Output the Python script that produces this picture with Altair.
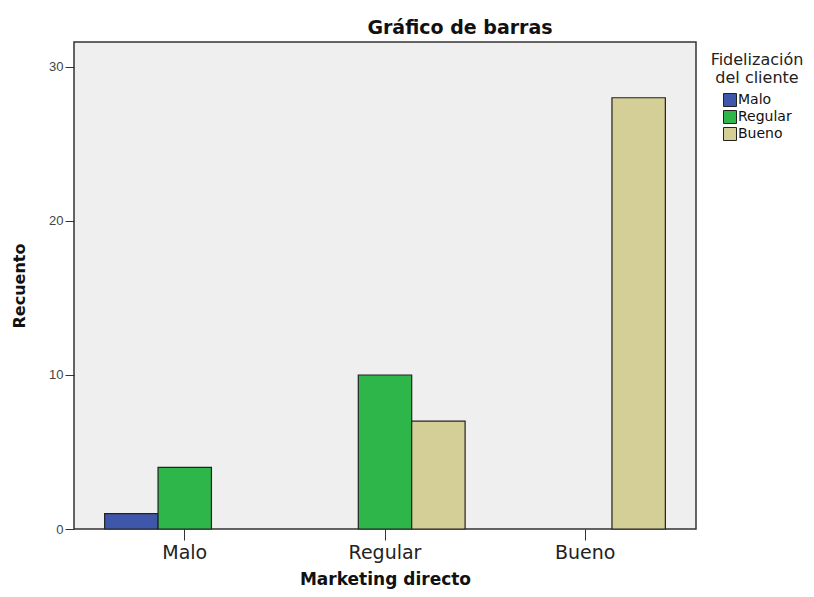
import altair as alt
import pandas as pd

categories = ["Malo", "Regular", "Bueno"]
marketing = ["Malo", "Malo", "Regular", "Regular", "Bueno"]
fidelizacion = ["Malo", "Regular", "Regular", "Bueno", "Bueno"]
recuento = [1, 4, 10, 7, 28]
colors = ["#3F57AA", "#2FB64B", "#D4CE97"]
y_ticks = [0, 10, 20, 30]

df = pd.DataFrame({
    "Marketing directo": marketing,
    "Fidelización del cliente": fidelizacion,
    "Recuento": recuento,
})

FONT = "DejaVu Sans"
LFONT = "Liberation Sans"

chart = alt.Chart(df).mark_bar(stroke="#222222", strokeWidth=1.2).encode(
    x=alt.X(
        "Marketing directo:N",
        sort=categories,
        scale=alt.Scale(domain=categories, paddingInner=0.2, paddingOuter=0.153),
        axis=alt.Axis(
            title="Marketing directo", labelAngle=0, domain=False,
            tickSize=11, tickColor="#333333", labelFontSize=19, labelColor="#222222",
            labelPadding=3, titleFontSize=17, titleFontWeight="bold",
            titlePadding=9, titleColor="#111111", labelFont=FONT, titleFont=FONT,
        ),
    ),
    xOffset=alt.XOffset(
        "Fidelización del cliente:N",
        scale=alt.Scale(domain=categories, paddingInner=0, paddingOuter=0),
    ),
    y=alt.Y(
        "Recuento:Q",
        scale=alt.Scale(domain=[0, 31.62], nice=False),
        axis=alt.Axis(
            title="Recuento", values=y_ticks, domain=False, grid=False,
            tickSize=9, tickColor="#333333", labelFontSize=13, labelColor="#444444",
            labelPadding=2, titleFontSize=16, titleFontWeight="bold",
            titlePadding=21, titleColor="#111111", labelFont=LFONT, titleFont=FONT,
        ),
    ),
    color=alt.Color(
        "Fidelización del cliente:N",
        scale=alt.Scale(domain=categories, range=colors),
        legend=alt.Legend(
            orient="none", legendX=637, legendY=10,
            title=["Fidelización", "del cliente"],
            titleAlign="center", titleAnchor="middle",
            titleFontSize=16, titleFontWeight="normal", titleColor="#222222",
            titleFont=FONT, titlePadding=7, titleLineHeight=18,
            labelFontSize=14, labelFont=FONT, labelColor="#111111",
            symbolType="square", symbolSize=169, symbolStrokeColor="#222222",
            symbolStrokeWidth=1, symbolOffset=0, rowPadding=-1, labelOffset=1,
        ),
    ),
).properties(
    width=622,
    height=487,
    autosize=alt.AutoSizeParams(type="none"),
    padding={"left": 66, "top": 34, "right": 110, "bottom": 60},
    title=alt.TitleParams(
        "Gráfico de barras", fontSize=19, fontWeight="bold", font=FONT,
        anchor="middle", dx=75, offset=4, color="#111111",
    ),
).configure(
    background="white",
    view=alt.ViewConfig(fill="#EFEFEF", stroke="#333333", strokeWidth=1.5),
)

chart.save("out.html", embed_options={"renderer": "svg", "actions": False})
